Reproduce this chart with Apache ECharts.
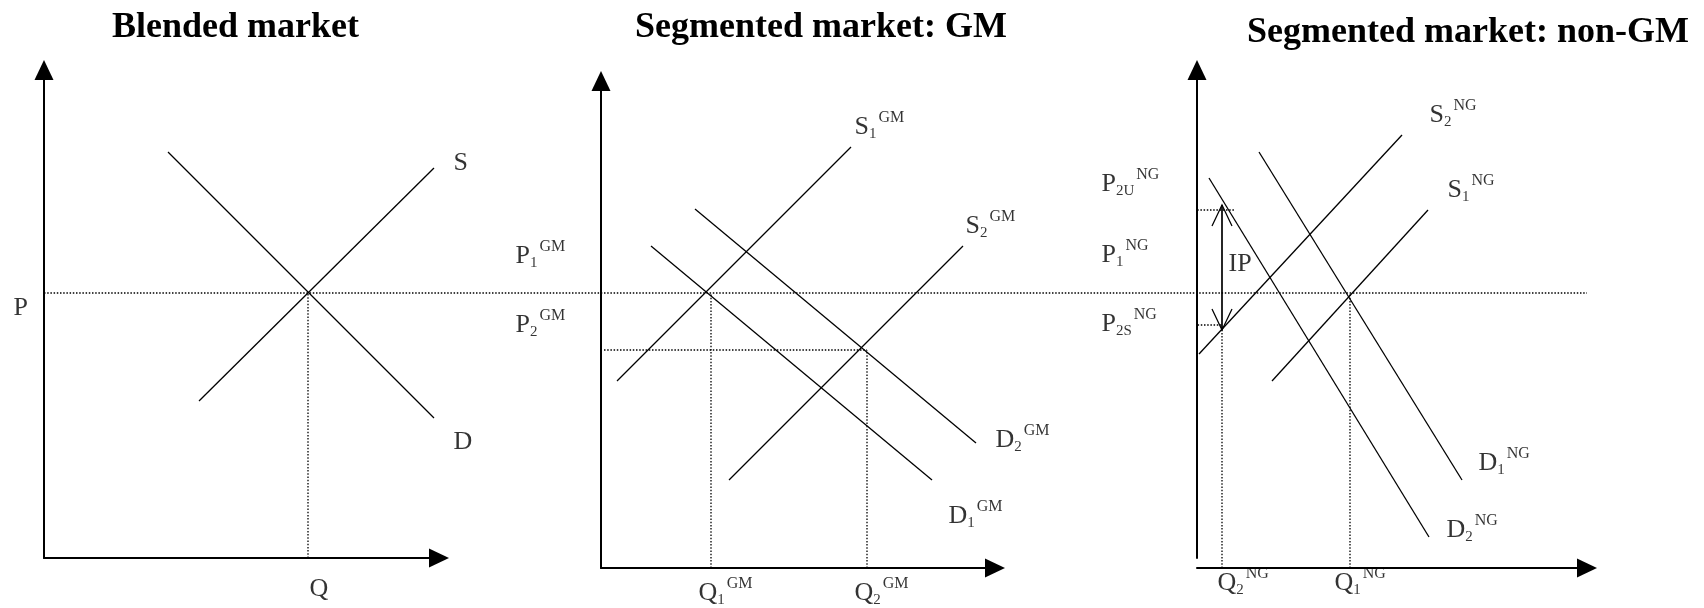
<!DOCTYPE html>
<html>
<head>
<meta charset="utf-8">
<script src="https://cdn.jsdelivr.net/npm/echarts@6/dist/echarts.min.js"></script>
<style>
  html, body { margin: 0; padding: 0; background: #fff; }
  #chart { width: 1704px; height: 608px; }
</style>
</head>
<body>
<div id="chart"></div>
<script>
// blended market, arbitrary Q / P units
const blendedSupply = [[15.5, 15.7], [39.0, 39.0]];
const blendedDemand = [[12.4, 40.6], [39.0, 14.0]];
const blendedP = 26.5;
const blendedQ = 26.4;

// segmented market: GM
const gmSupply1 = [[1.6, 18.7], [25.0, 42.1]];
const gmSupply2 = [[12.8, 8.8], [36.2, 32.2]];
const gmDemand1 = [[5.0, 32.2], [33.1, 8.8]];
const gmDemand2 = [[9.4, 35.9], [37.5, 12.5]];
const gmPrices = [27.5, 21.8];      // P1, P2
const gmQuantities = [11.0, 26.6];  // Q1, Q2

// segmented market: non-GM
const ngSupply1 = [[7.5, 17.7], [23.1, 34.8]];
const ngSupply2 = [[0.2, 20.4], [20.5, 42.3]];
const ngDemand1 = [[6.2, 40.6], [26.5, 7.8]];
const ngDemand2 = [[1.2, 38.0], [23.2, 2.1]];
const ngPrices = [26.5, 34.8, 23.3];   // P1, P2U, P2S
const ngQuantities = [15.3, 2.5];      // Q1, Q2
const ipSpan = [22.8, 35.3];

// axis ranges [xMax, yMax] per panel
const axisRanges = [[39.5, 48.8], [39.4, 48.7], [39.0, 48.8]];

// labels: [main, sub, sup, q, p]
const blendedLabels = [
  ['S', '', '', 40.9, 39.5],
  ['D', '', '', 40.9, 11.6],
  ['P', '', '', -3.1, 25.0],
  ['Q', '', '', 26.5, -3.1],
];
const gmLabels = [
  ['S', '1', 'GM', 25.3, 44.1],
  ['S', '2', 'GM', 36.4, 34.2],
  ['D', '2', 'GM', 39.4, 12.8],
  ['D', '1', 'GM', 34.7, 5.2],
  ['P', '1', 'GM', -8.6, 31.2],
  ['P', '2', 'GM', -8.6, 24.3],
  ['Q', '1', 'GM', 9.7, -2.5],
  ['Q', '2', 'GM', 25.3, -2.5],
];
const ngLabels = [
  ['P', '2U', 'NG', -9.6, 37.4],
  ['P', '1', 'NG', -9.6, 30.3],
  ['P', '2S', 'NG', -9.6, 23.4],
  ['IP', '', '', 3.1, 29.4],
  ['S', '2', 'NG', 23.2, 44.3],
  ['S', '1', 'NG', 25.0, 36.8],
  ['D', '1', 'NG', 28.1, 9.5],
  ['D', '2', 'NG', 24.9, 2.8],
  ['Q', '2', 'NG', 2.0, -2.5],
  ['Q', '1', 'NG', 13.7, -2.5],
];
const titles = ['Blended market', 'Segmented market: GM', 'Segmented market: non-GM'];

const SERIF = "'Liberation Serif', 'Times New Roman', serif";

const chart = echarts.init(document.getElementById('chart'), null, { renderer: 'canvas' });

function axis(max, extra) {
  return Object.assign({
    type: 'value',
    min: 0,
    max: max,
    axisLine: {
      show: true,
      onZero: false,
      symbol: ['none', 'triangle'],
      symbolSize: [19, 20],
      lineStyle: { color: '#000', width: 2 },
    },
    axisTick: { show: false },
    axisLabel: { show: false },
    splitLine: { show: false },
  }, extra || {});
}

function curve(data, gi) {
  return {
    type: 'line', xAxisIndex: gi, yAxisIndex: gi, data,
    symbol: 'none', clip: false, silent: true,
    lineStyle: { color: '#000', width: 1.3 },
  };
}

function dotted(data, gi) {
  return {
    type: 'line', xAxisIndex: gi, yAxisIndex: gi, data,
    symbol: 'none', clip: false, silent: true,
    lineStyle: { color: '#000', width: 1.3, type: [1.5, 1.7] },
  };
}

function labelText(main, sub, sup) {
  let s = `{m|${main}}`;
  if (sub) s += `{b|${sub}}`;
  if (sup) s += `{p|${sup}}`;
  return s;
}

function labels(list, gi) {
  return {
    type: 'scatter', xAxisIndex: gi, yAxisIndex: gi,
    symbolSize: 1, clip: false, silent: true,
    itemStyle: { color: 'transparent' },
    data: list.map(([m, b, p, x, y]) => ({ value: [x, y], txt: labelText(m, b, p) })),
    label: {
      show: true,
      position: 'right',
      distance: 0,
      lineHeight: 30,
      formatter: (d) => d.data.txt,
      rich: {
        m: { fontFamily: SERIF, fontSize: 26, color: '#000', lineHeight: 30 },
        b: { fontFamily: SERIF, fontSize: 15, color: '#000', verticalAlign: 'bottom', height: 16 },
        p: { fontFamily: SERIF, fontSize: 16, color: '#000', verticalAlign: 'top', height: 12, padding: [0, 0, 0, 2] },
      },
    },
  };
}

const titleLeft = [112, 635, 1247];
const titleTop = [10, 10, 15];

const option = {
  backgroundColor: '#fff',
  animation: false,
  title: titles.map((t, i) => ({
    text: t,
    left: titleLeft[i],
    top: titleTop[i],
    padding: 0,
    textStyle: { fontFamily: SERIF, fontWeight: 'bold', fontSize: 36, color: '#000' },
  })),
  grid: [
    { left: 44, top: 70, width: 395, height: 488, outerBoundsMode: 'none' },
    { left: 601, top: 81, width: 394, height: 487, outerBoundsMode: 'none' },
    { left: 1197, top: 70, width: 390, height: 488, outerBoundsMode: 'none' },
    // shared price level running across all panels
    { left: 44, top: 70, width: 1543, height: 488, outerBoundsMode: 'none' },
  ],
  xAxis: [
    axis(axisRanges[0][0], { gridIndex: 0 }),
    axis(axisRanges[1][0], { gridIndex: 1 }),
    axis(axisRanges[2][0], { gridIndex: 2, offset: 10 }),
    { type: 'value', gridIndex: 3, min: 0, max: 1, show: false },
  ],
  yAxis: [
    axis(axisRanges[0][1], { gridIndex: 0 }),
    axis(axisRanges[1][1], { gridIndex: 1 }),
    axis(axisRanges[2][1], { gridIndex: 2 }),
    { type: 'value', gridIndex: 3, min: 0, max: axisRanges[0][1], show: false },
  ],
  series: [
    dotted([[0, blendedP], [1, blendedP]], 3),

    // blended
    curve(blendedSupply, 0),
    curve(blendedDemand, 0),
    dotted([[blendedQ, 0], [blendedQ, blendedP]], 0),
    labels(blendedLabels, 0),

    // GM
    curve(gmSupply1, 1),
    curve(gmSupply2, 1),
    curve(gmDemand1, 1),
    curve(gmDemand2, 1),
    dotted([[0.3, gmPrices[1]], [gmQuantities[1], gmPrices[1]]], 1),
    dotted([[gmQuantities[0], 0], [gmQuantities[0], gmPrices[0]]], 1),
    dotted([[gmQuantities[1], 0], [gmQuantities[1], gmPrices[1]]], 1),
    labels(gmLabels, 1),

    // non-GM
    curve(ngSupply1, 2),
    curve(ngSupply2, 2),
    curve(ngDemand1, 2),
    curve(ngDemand2, 2),
    dotted([[ngQuantities[0], -1], [ngQuantities[0], ngPrices[0]]], 2),
    dotted([[ngQuantities[1], -1], [ngQuantities[1], ngPrices[2]]], 2),
    dotted([[-0.3, ngPrices[1]], [3.8, ngPrices[1]]], 2),
    dotted([[-0.9, ngPrices[2]], [ngQuantities[1], ngPrices[2]]], 2),
    {
      type: 'line', xAxisIndex: 2, yAxisIndex: 2, clip: false, silent: true,
      symbol: 'path://M0,21L10,0L20,21',
      symbolSize: [20, 21],
      itemStyle: { color: 'none', borderColor: '#000', borderWidth: 1.3 },
      lineStyle: { color: '#000', width: 1.7 },
      data: [
        { value: [ngQuantities[1], ipSpan[0]], symbolRotate: 180, symbolOffset: [0, -10.5] },
        { value: [ngQuantities[1], ipSpan[1]], symbolRotate: 0, symbolOffset: [0, 10.5] },
      ],
    },
    labels(ngLabels, 2),
  ],
};

chart.setOption(option);
</script>
</body>
</html>
